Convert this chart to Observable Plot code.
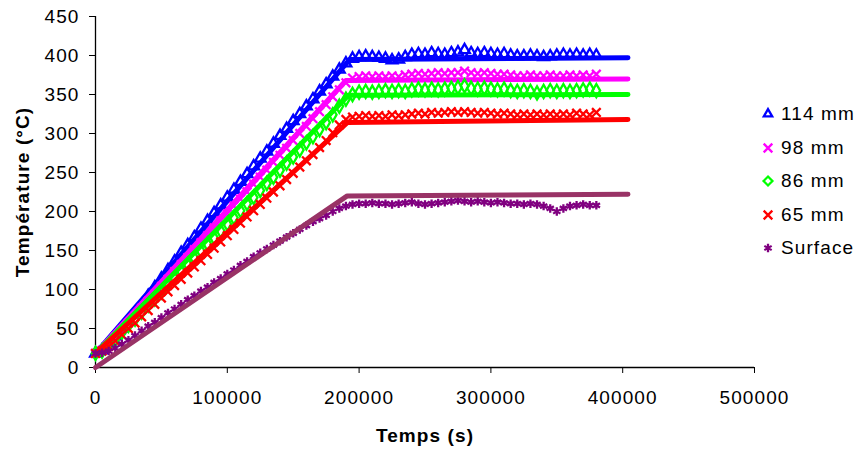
<!DOCTYPE html>
<html>
<head>
<meta charset="utf-8">
<script src="https://cdn.jsdelivr.net/npm/d3@7"></script>
<script src="https://cdn.jsdelivr.net/npm/@observablehq/plot@0.6"></script>
<style>
  html, body { margin: 0; padding: 0; background: #fff; }
  #wrap { position: relative; width: 859px; height: 450px; font-family: "Liberation Sans", Arial, sans-serif; }
  #wrap svg text { letter-spacing: 1.1px; }
  #legend { position: absolute; left: 760px; top: 0; }
  .item { position: absolute; left: 0; height: 20px; display: flex; align-items: center; font-size: 19px; letter-spacing: 1.1px; color: #000; white-space: nowrap; }
  .item svg { width: 16px; height: 16px; margin-right: 5px; overflow: visible; }
</style>
</head>
<body>
<div id="wrap"></div>
<script>
// ---- data (time in kiloseconds, temperature in °C) ----
const timeKs = [0,5,10,15,20,25,30,35,40,45,50,55,60,65,70,75,80,85,90,95,100,105,110,115,120,125,130,135,140,145,150,155,160,165,170,175,180,185,190,195,200,205,210,215,220,225,230,235,240,245,250,255,260,265,270,275,280,285,290,295,300,305,310,315,320,325,330,335,340,345,350,355,360,365,370,375,380];

const meas114 = [18,22,30,40,50,60,70,80,92,103,114,125,136,147,157,167,178,188,198,208,218,228,238,248,258,268,277,287,297,306,316,325,335,344,354,363,373,382,390,396,398,399,398,397,396,394,395,398,401,402,401,403,402,401,403,404,407,403,402,403,402,401,402,400,399,399,400,399,398,399,400,401,400,401,400,401,400];
const meas98 = [18,22,30,39,48,57,66,76,85,94,104,113,123,132,141,151,160,169,179,188,197,207,216,225,235,244,253,263,272,281,291,300,309,319,328,337,347,356,365,371,373,374,373,374,373,374,373,375,376,377,376,377,378,377,378,378,380,378,377,378,377,376,376,375,374,374,375,374,374,375,374,374,375,374,375,374,376];
const meas86 = [18,21,28,36,45,54,62,71,80,88,97,106,114,123,132,140,149,158,166,175,184,192,201,210,218,227,236,244,253,262,270,279,288,296,305,314,324,335,344,350,353,354,353,354,355,354,355,354,356,357,356,357,356,357,358,359,361,358,357,358,357,356,357,355,354,355,354,352,354,355,354,355,354,355,356,357,355];
const meas65 = [18,21,27,34,42,50,57,65,73,81,89,97,105,113,121,129,137,145,153,161,169,177,185,193,201,209,217,225,233,241,249,257,265,273,282,291,301,311,318,321,322,323,322,323,322,324,323,324,325,326,325,327,326,327,328,327,328,327,326,327,326,325,326,325,324,325,324,325,324,325,324,325,324,326,325,324,327];
const measSurf = [18,19,21,25,30,35,41,47,53,58,64,70,75,81,87,92,98,103,109,114,120,125,131,136,142,147,152,157,162,167,172,177,182,187,191,195,200,204,207,209,210,210,211,210,210,209,210,211,212,210,209,210,211,212,213,214,213,212,213,212,211,212,211,210,210,209,210,209,207,204,200,204,207,208,209,208,208];

// model curves (time in ks, temperature)
const model114T = [0,193,404],  model114 = [18,395,397];
const model98T  = [0,190,404],  model98  = [18,368,370];
const model86T  = [0,192,404],  model86  = [18,349,350];
const model65T  = [0,191,404],  model65  = [18,314,318];
const modelSurfT= [0,191,404],  modelSurf= [0,220,222];

const seriesNames = ["114 mm","98 mm","86 mm","65 mm","Surface"];
const xTicks = [0,100000,200000,300000,400000,500000];
const yTicks = [0,50,100,150,200,250,300,350,400,450];
const xTitle = "Temps (s)";
const yTitle = "Température (°C)";

// ---- build ----
const markerColors = ["#0000FF","#FF00FF","#00FF00","#FF0000","#800080"];
const lineColors   = ["#0000FF","#FF00FF","#00FF00","#FF0000","#993366"];
const symbols      = ["triangle","times","diamond","times","asterisk"];
const measured = [meas114, meas98, meas86, meas65, measSurf];
const modelsT  = [model114T, model98T, model86T, model65T, modelSurfT];
const models   = [model114, model98, model86, model65, modelSurf];

const toRows = (ts, vs) => ts.map((t, i) => ({t: t * 1000, v: vs[i]}));

const marks = [];
for (let s = 0; s < 5; s++) {
  marks.push(Plot.dot(toRows(timeKs, measured[s]), {
    x: "t", y: "v", symbol: () => symbols[s], r: 4,
    stroke: markerColors[s], fill: "none", strokeWidth: 2.3
  }));
  marks.push(Plot.line(toRows(modelsT[s], models[s]), {
    x: "t", y: "v", stroke: lineColors[s], strokeWidth: 5,
    strokeLinecap: "round", strokeLinejoin: "round"
  }));
}

const chart = Plot.plot({
  width: 859, height: 450,
  marginLeft: 95, marginRight: 105, marginTop: 16, marginBottom: 83,
  style: {fontFamily: "'Liberation Sans', Arial, sans-serif", fontSize: "19px", color: "#000", background: "#fff"},
  x: {domain: [0, 500000], label: null},
  y: {domain: [0, 450], label: null},
  symbol: {type: "identity"},
  marks: [
    Plot.axisX({ticks: xTicks, tickSize: 6, tickPadding: 17, tickFormat: d => String(d), fontSize: 19, label: null}),
    Plot.axisY({ticks: yTicks, tickSize: 6, tickPadding: 10, tickFormat: d => String(d), fontSize: 19, label: null}),
    Plot.ruleX([0], {stroke: "#000", strokeWidth: 1.3}),
    Plot.ruleY([0], {stroke: "#000", strokeWidth: 1.3}),
    ...marks,
    Plot.text([xTitle], {frameAnchor: "bottom", dy: 74, fontWeight: "bold", fontSize: 19, fill: "#000"}),
    Plot.text([yTitle], {frameAnchor: "left", dx: -73, rotate: -90, textAnchor: "middle", lineAnchor: "middle", fontWeight: "bold", fontSize: 19, fill: "#000"})
  ]
});

const wrap = document.getElementById("wrap");
wrap.appendChild(chart);

// legend
const legend = document.createElement("div");
legend.id = "legend";
const legendY = [114, 148, 181, 215, 248];
const symMap = {triangle: d3.symbolTriangle2, times: d3.symbolTimes, diamond: d3.symbolDiamond2, asterisk: d3.symbolAsterisk};
seriesNames.forEach((name, i) => {
  const item = document.createElement("div");
  item.className = "item";
  item.style.top = (legendY[i] - 10) + "px";
  const path = d3.symbol(symMap[symbols[i]], Math.PI * 4 * 4)();
  item.innerHTML = `<svg viewBox="-8 -8 16 16"><path d="${path}" fill="none" stroke="${markerColors[i]}" stroke-width="2.3"/></svg><span>${name}</span>`;
  legend.appendChild(item);
});
wrap.appendChild(legend);
</script>
</body>
</html>
